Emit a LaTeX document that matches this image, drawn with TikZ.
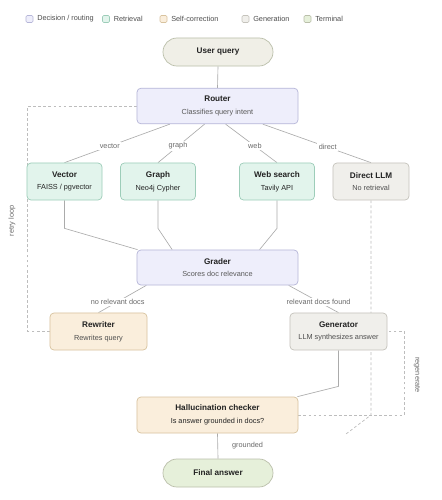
\documentclass[tikz,border=0pt]{standalone}
\usepackage{fontspec}
\setmainfont{Liberation Sans}
\usepackage{xcolor}
\usetikzlibrary{calc}
\usetikzlibrary{backgrounds}

\definecolor{decfill}{HTML}{EEEEFB}
\definecolor{decline}{HTML}{B6B6D8}
\definecolor{retfill}{HTML}{E2F4EC}
\definecolor{retline}{HTML}{9DCDB9}
\definecolor{selffill}{HTML}{FAEEDC}
\definecolor{selfline}{HTML}{D8C39F}
\definecolor{genfill}{HTML}{F0EFEB}
\definecolor{genline}{HTML}{C5C3BC}
\definecolor{userfill}{HTML}{F0EFE7}
\definecolor{finalfill}{HTML}{E6F0DA}
\definecolor{termline}{HTML}{BABFAA}
\definecolor{wirecol}{HTML}{ABABAB}
\definecolor{dashcol}{HTML}{BDBDBD}
\definecolor{lblcol}{HTML}{6A6A6A}
\definecolor{ttlcol}{HTML}{222222}

\begin{document}
\begin{tikzpicture}[x=0.025cm, y=-0.025cm,
        box/.style={draw, rounded corners=0.1cm, line width=0.5pt, align=center,
                inner sep=0pt, text=ttlcol, font=\fontsize{5.2pt}{9pt}\selectfont},
        decision/.style={box, fill=decfill, draw=decline, minimum width=4.025cm, minimum height=0.89cm},
        retrieval/.style={box, fill=retfill, draw=retline, minimum width=1.875cm, minimum height=0.925cm},
        selfcorr/.style={box, fill=selffill, draw=selfline},
        generation/.style={box, fill=genfill, draw=genline},
        terminal/.style={box, draw=termline, rounded corners=0.35cm, minimum width=2.75cm, minimum height=0.7cm},
        wire/.style={draw=wirecol, line width=0.45pt},
        dashwire/.style={draw=dashcol, line width=0.5pt, dash pattern=on 2pt off 1.6pt},
        lbl/.style={text=lblcol, font=\fontsize{5.2pt}{6pt}\selectfont, inner sep=1pt},
        legendbox/.style={draw, rounded corners=0.03cm, line width=0.4pt, minimum size=0.175cm, inner sep=0pt},
        legendtext/.style={text=ttlcol!80, font=\fontsize{5.2pt}{6pt}\selectfont, anchor=west, inner sep=0pt}
    ]
    \useasboundingbox (0,0) rectangle (441,500);

    % Legend
    \foreach \bx/\fc/\lc/\txt/\nm in {29.5/decfill/decline/{Decision / routing}/legdec,
            106/retfill/retline/{Retrieval}/legret,
            163.5/selffill/selfline/{Self-correction}/legself,
            245.5/genfill/genline/{Generation}/leggen,
            307.5/finalfill/termline/{Terminal}/legterm}
        {
            \node[legendbox, fill=\fc, draw=\lc] (\nm) at (\bx,19) {};
            \node[legendtext] (\nm txt) at (\bx+7.5,19) {\txt};
        }

    % Nodes
    \node[terminal, fill=userfill] (user) at (218,52) {\fontsize{5.8pt}{9pt}\selectfont\bfseries User query};
    \node[decision] (router) at (217.5,106) {{\fontsize{5.8pt}{9pt}\selectfont\bfseries Router}\\ \textcolor{ttlcol!75}{Classifies query intent}};

    \node[retrieval] (vector) at (64.5,181.5) {{\fontsize{5.8pt}{9pt}\selectfont\bfseries Vector}\\ FAISS / pgvector};
    \node[retrieval] (graph) at (158,181.5) {{\fontsize{5.8pt}{9pt}\selectfont\bfseries Graph}\\ Neo4j Cypher};
    \node[retrieval] (web) at (277,181.5) {{\fontsize{5.8pt}{9pt}\selectfont\bfseries Web search}\\ Tavily API};
    \node[generation, minimum width=1.9cm, minimum height=0.925cm] (direct) at (371,181.5) {{\fontsize{5.8pt}{9pt}\selectfont\bfseries Direct LLM}\\ \textcolor{ttlcol!80}{No retrieval}};

    \node[decision, minimum height=0.875cm] (grader) at (217.5,267.5) {{\fontsize{5.8pt}{9pt}\selectfont\bfseries Grader}\\ \textcolor{ttlcol!75}{Scores doc relevance}};

    \node[selfcorr, minimum width=2.425cm, minimum height=0.925cm] (rewriter) at (98.5,331.5) {{\fontsize{5.8pt}{9pt}\selectfont\bfseries Rewriter}\\ \textcolor{ttlcol!80}{Rewrites query}};
    \node[generation, minimum width=2.425cm, minimum height=0.925cm] (generator) at (338.5,331.5) {{\fontsize{5.8pt}{9pt}\selectfont\bfseries Generator}\\ \textcolor{ttlcol!80}{LLM synthesizes answer}};

    \node[selfcorr, minimum width=4.025cm, minimum height=0.9cm] (hall) at (217.5,415) {{\fontsize{5.8pt}{9pt}\selectfont\bfseries Hallucination checker}\\ Is answer grounded in docs?};

    \node[terminal, fill=finalfill] (final) at (218,473) {\fontsize{5.8pt}{9pt}\selectfont\bfseries Final answer};

    \node[lbl, rotate=90] (retrylbl) at (12,221) {retry loop};
    \node[lbl, rotate=-90] (regenlbl) at (417,375) {regenerate};
    \coordinate (directend) at (346,434);

    % Connectors (behind the boxes)
    \begin{scope}[on background layer]
        \fill[white] (0,0) rectangle (441,500);

        \draw[wire] (user.south) -- (router.north);

        \draw[wire] ($(router.south west)!0.205!(router.south east)$) -- node[lbl, fill=white, pos=0.57] {vector} (vector.north);
        \draw[wire] ($(router.south west)!0.42!(router.south east)$) -- node[lbl, fill=white, pos=0.57] {graph} (graph.north);
        \draw[wire] ($(router.south west)!0.55!(router.south east)$) -- node[lbl, fill=white, pos=0.57] {web} (web.north);
        \draw[wire] ($(router.south west)!0.78!(router.south east)$) -- node[lbl, fill=white, pos=0.6] {direct} (direct.north);

        \draw[wire] (vector.south) -- ++(0,28) -- ($(grader.north west)+(1,0)$);
        \draw[wire] (graph.south) -- ++(0,28) -- ($(grader.north west)!0.22!(grader.north east)$);
        \draw[wire] (web.south) -- ++(0,28) -- ($(grader.north west)!0.76!(grader.north east)$);

        \draw[dashwire] (direct.south) -- (direct.south |- hall.east) -- (directend);

        \draw[wire] ($(grader.south west)!0.06!(grader.south east)$) -- node[lbl, fill=white, pos=0.6] {no relevant docs} (rewriter.north);
        \draw[wire] ($(grader.south west)!0.94!(grader.south east)$) -- node[lbl, fill=white, pos=0.6] {relevant docs found} (generator.north);

        % retry loop
        \draw[dashwire] (rewriter.west) -- ++(-22,0) |- (router.west);

        % regenerate loop
        \draw[dashwire] (hall.east) -- ++(106,0) |- (generator.east);

        \draw[wire] (generator.south) -- ++(0,36) -- ($(hall.north east)+(-1,0)$);

        \draw[wire] (hall.south) -- node[lbl, right=9pt, pos=0.5] {grounded} (final.north);
    \end{scope}

\end{tikzpicture}
\end{document}
